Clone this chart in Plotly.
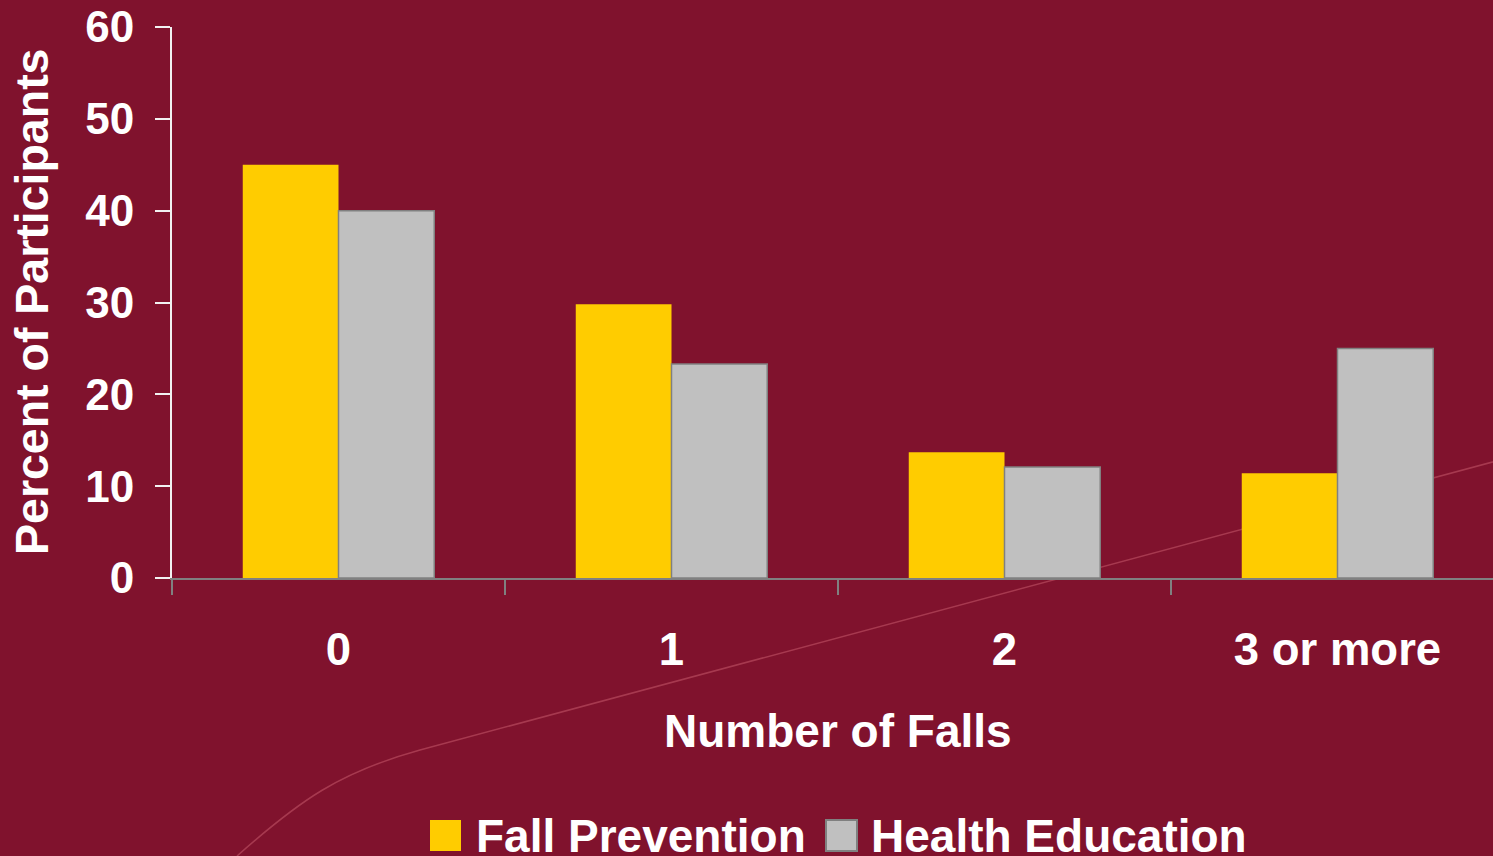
import plotly.graph_objects as go

# Chart data
categories = ["0", "1", "2", "3 or more"]
series_names = ["Fall Prevention", "Health Education"]
fall_prevention = [45.0, 29.8, 13.7, 11.4]
health_education = [40.0, 23.3, 12.1, 25.0]
y_ticks = [0, 10, 20, 30, 40, 50, 60]

W, H = 1493, 856
ML, MR, MT, MB = 172, 0, 27, 278
PW, PH = W - ML - MR, H - MT - MB

BG = "#80122D"
YELLOW = "#FFCC00"
GRAY = "#C0C0C0"
GRAY_LINE = "#808080"
FONT = "Liberation Sans"


def px(x):
    return (x - ML) / PW


def py(y):
    return (H - MB - y) / PH


fig = go.Figure()
fig.add_trace(go.Bar(x=categories, y=fall_prevention, name=series_names[0],
                     marker=dict(color=YELLOW, line=dict(width=0))))
fig.add_trace(go.Bar(x=categories, y=health_education, name=series_names[1],
                     marker=dict(color=GRAY, line=dict(color=GRAY_LINE, width=1.5))))

# category width in pixels, so the x range runs past the right edge
cat_w = 333.0
x_max = -0.5 + PW / cat_w

# faint decorative swoosh behind the plot
p0 = (237, 856)
c1 = (300, 800)
c2 = (340, 772)
p1 = (420, 750)
p2 = (1500, 460)
path = (f"M {px(p0[0])},{py(p0[1])} C {px(c1[0])},{py(c1[1])} {px(c2[0])},{py(c2[1])} "
        f"{px(p1[0])},{py(p1[1])} L {px(p2[0])},{py(p2[1])}")
shapes = [dict(type="path", xref="paper", yref="paper", path=path, layer="below",
               line=dict(color="rgba(255,150,160,0.3)", width=1.5))]

annotations = []
# legend drawn as swatches + labels
legend_items = [
    (series_names[0], YELLOW, None, 430, 474),
    (series_names[1], GRAY, GRAY_LINE, 826, 869),
]
for name, fill, edge, sx, tx in legend_items:
    shapes.append(dict(type="rect", xref="paper", yref="paper",
                       x0=px(sx), x1=px(sx + 31), y0=py(851), y1=py(820),
                       fillcolor=fill,
                       line=dict(color=edge or fill, width=2 if edge else 0)))
    annotations.append(dict(text=name, xref="paper", yref="paper",
                            x=px(tx), y=py(836), xanchor="left", yanchor="middle",
                            showarrow=False,
                            font=dict(family=FONT, size=46, color="white", weight="bold")))

annotations.append(dict(text="Number of Falls", xref="paper", yref="paper",
                        x=px(838), y=py(731), xanchor="center", yanchor="middle",
                        showarrow=False,
                        font=dict(family=FONT, size=46, color="white", weight="bold")))
annotations.append(dict(text="Percent of Participants", xref="paper", yref="paper",
                        x=px(32), y=py(302), xanchor="center", yanchor="middle",
                        textangle=-90, showarrow=False,
                        font=dict(family=FONT, size=46.5, color="white", weight="bold")))

fig.update_layout(
    width=W, height=H,
    margin=dict(l=ML, r=MR, t=MT, b=MB, pad=0),
    paper_bgcolor=BG, plot_bgcolor="rgba(0,0,0,0)",
    barmode="group", bargap=0.425, bargroupgap=0,
    showlegend=False,
    shapes=shapes, annotations=annotations,
    xaxis=dict(
        range=[-0.5, x_max], type="category",
        showgrid=False, zeroline=False,
        showline=True, linecolor=GRAY_LINE, linewidth=2,
        ticks="outside", tickson="boundaries", ticklen=15, tickwidth=2, tickcolor=GRAY_LINE,
        tickfont=dict(family=FONT, size=45.5, color="white", weight="bold"),
        ticklabelstandoff=30,
    ),
    yaxis=dict(
        range=[0, 60], tickvals=y_ticks,
        showgrid=False, zeroline=False,
        showline=True, linecolor="#F2F2F2", linewidth=2,
        ticks="outside", ticklen=15, tickwidth=2, tickcolor="#F2F2F2",
        tickfont=dict(family=FONT, size=44, color="white", weight="bold"),
        ticklabelstandoff=12,
    ),
)

fig.write_html("out.html")
